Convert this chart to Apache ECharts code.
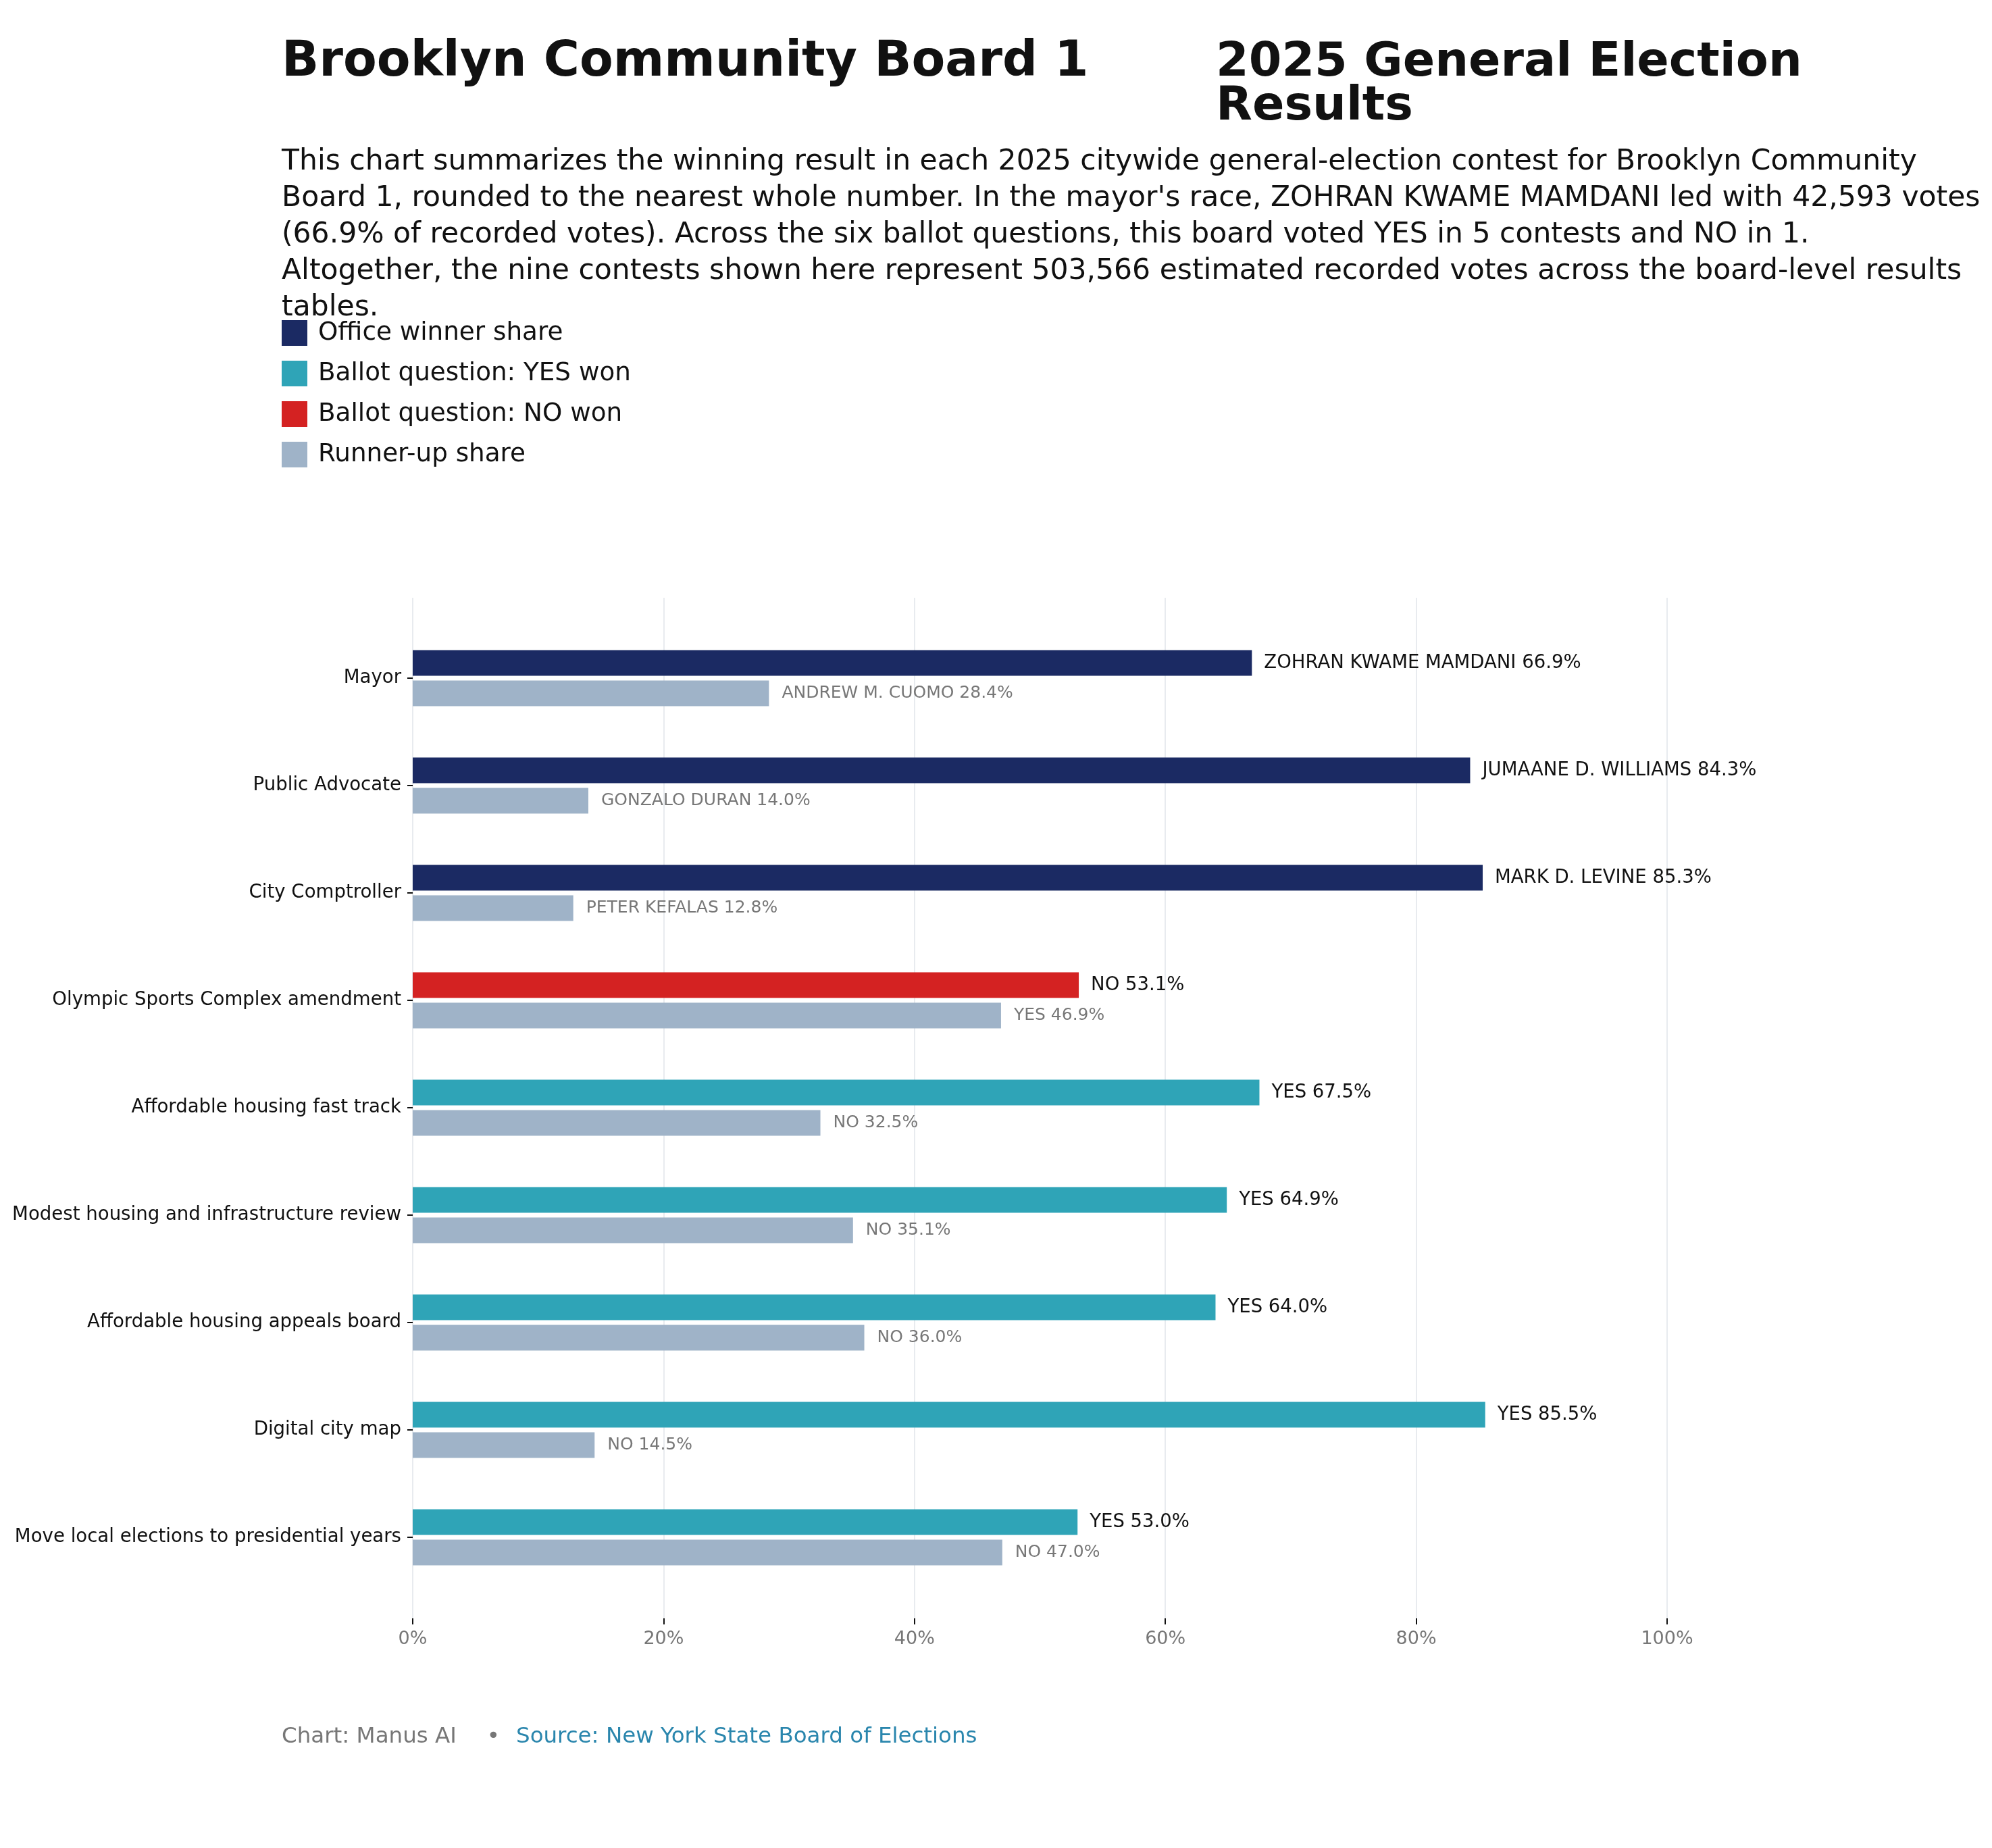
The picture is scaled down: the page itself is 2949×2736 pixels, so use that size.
<!DOCTYPE html>
<html>
<head>
<meta charset="utf-8" />
<title>Brooklyn Community Board 1 - 2025 General Election Results</title>
<script type="text/javascript" src="https://cdn.jsdelivr.net/npm/echarts@6/dist/echarts.min.js"></script>
<style type="text/css">
html, body {
	margin: 0;
	padding: 0;
	background: #ffffff;
}
#main {
	width: 2949px;
	height: 2736px;
}
</style>
</head>
<body>
<div id="main"></div>
<script type="text/javascript">
// contests, top to bottom
var contests = [
    'Mayor',
    'Public Advocate',
    'City Comptroller',
    'Olympic Sports Complex amendment',
    'Affordable housing fast track',
    'Modest housing and infrastructure review',
    'Affordable housing appeals board',
    'Digital city map',
    'Move local elections to presidential years'
];
// office / yes / no
var winnerKind = ['office', 'office', 'office', 'no', 'yes', 'yes', 'yes', 'yes', 'yes'];
var winnerNames = ['ZOHRAN KWAME MAMDANI', 'JUMAANE D. WILLIAMS', 'MARK D. LEVINE', 'NO', 'YES', 'YES', 'YES', 'YES', 'YES'];
var winnerShares = [66.9, 84.3, 85.3, 53.1, 67.5, 64.9, 64.0, 85.5, 53.0];
var runnerNames = ['ANDREW M. CUOMO', 'GONZALO DURAN', 'PETER KEFALAS', 'YES', 'NO', 'NO', 'NO', 'NO', 'NO'];
var runnerShares = [28.4, 14.0, 12.8, 46.9, 32.5, 35.1, 36.0, 14.5, 47.0];
var xTicks = [0, 20, 40, 60, 80, 100];

var FONT = 'DejaVu Sans';
var colors = {
    office: '#1b2a63',
    yes: '#2fa4b7',
    no: '#d42222',
    runner: '#9fb3c8'
};

function onlyKind(kind) {
    return winnerShares.map(function (v, i) {
        return winnerKind[i] === kind ? v : '-';
    });
}

function winnerLabel() {
    return {
        show: true,
        position: 'right',
        distance: 18,
        fontFamily: FONT,
        fontSize: 27.5,
        color: '#111111',
        formatter: function (p) {
            return winnerNames[p.dataIndex] + ' ' + p.value.toFixed(1) + '%';
        }
    };
}

function winnerSeries(name, kind) {
    return {
        name: name,
        type: 'bar',
        stack: 'winner',
        xAxisIndex: 0,
        yAxisIndex: 0,
        barWidth: 38,
        barGap: '18.4%',
        itemStyle: { color: colors[kind] },
        label: winnerLabel(),
        data: onlyKind(kind),
        z: 3
    };
}

var chart = echarts.init(document.getElementById('main'), null, { renderer: 'canvas' });

var option = {
    backgroundColor: '#ffffff',
    animation: false,
    textStyle: { fontFamily: FONT },
    title: [{
        text: 'Brooklyn Community Board 1',
        left: 417,
        top: 61,
        padding: 0,
        textStyle: { fontFamily: FONT, fontSize: 72.5, fontWeight: 'bold', color: '#111111', lineHeight: 65 }
    }, {
        text: '2025 General Election\nResults',
        left: 1800,
        top: 61,
        padding: 0,
        textStyle: { fontFamily: FONT, fontSize: 70, fontWeight: 'bold', color: '#111111', lineHeight: 65 }
    }, {
        text: 'This chart summarizes the winning result in each 2025 citywide general-election contest for Brooklyn Community\n' +
              'Board 1, rounded to the nearest whole number. In the mayor\'s race, ZOHRAN KWAME MAMDANI led with 42,593 votes\n' +
              '(66.9% of recorded votes). Across the six ballot questions, this board voted YES in 5 contests and NO in 1.\n' +
              'Altogether, the nine contests shown here represent 503,566 estimated recorded votes across the board-level results\n' +
              'tables.',
        left: 417,
        top: 213,
        padding: 0,
        textStyle: { fontFamily: FONT, fontSize: 42.5, fontWeight: 'normal', color: '#111111', lineHeight: 54 }
    }, {
        text: '{a|Chart: Manus AI}{b|•}{c|Source: New York State Board of Elections}',
        left: 417,
        top: 2552,
        padding: 0,
        textStyle: {
            fontWeight: 'normal',
            rich: {
                a: { fontFamily: FONT, fontSize: 32.5, fontWeight: 'normal', color: '#777777', lineHeight: 40 },
                b: { fontFamily: FONT, fontSize: 32.5, fontWeight: 'normal', color: '#777777', lineHeight: 40, padding: [0, 24, 0, 45] },
                c: { fontFamily: FONT, fontSize: 32.5, fontWeight: 'normal', color: '#2a86ad', lineHeight: 40 }
            }
        }
    }],
    legend: {
        orient: 'vertical',
        left: 417,
        top: 474,
        padding: 0,
        itemWidth: 38,
        itemHeight: 38,
        itemGap: 22,
        icon: 'rect',
        selectedMode: false,
        textStyle: { fontFamily: FONT, fontSize: 37.3, color: '#111111', padding: [0, 0, 0, 11] },
        data: ['Office winner share', 'Ballot question: YES won', 'Ballot question: NO won', 'Runner-up share']
    },
    grid: [{
        // bars
        left: 611,
        right: 481,
        top: 924.5,
        bottom: 380.5,
        containLabel: false
    }, {
        // gridlines and percent axis, a little taller than the bar area
        left: 611,
        right: 481,
        top: 885,
        bottom: 340,
        containLabel: false
    }],
    xAxis: [{
        type: 'value',
        gridIndex: 0,
        min: 0,
        max: 100,
        interval: 20,
        show: false
    }, {
        type: 'value',
        gridIndex: 1,
        min: xTicks[0],
        max: xTicks[xTicks.length - 1],
        interval: 20,
        axisLine: { show: false },
        axisTick: { show: true, length: 9, lineStyle: { color: '#111111', width: 2 } },
        splitLine: { show: true, lineStyle: { color: '#e8ebef', width: 2 } },
        axisLabel: {
            margin: 17,
            fontFamily: FONT,
            fontSize: 27,
            color: '#777777',
            formatter: '{value}%'
        }
    }],
    yAxis: [{
        type: 'category',
        gridIndex: 0,
        inverse: true,
        data: contests,
        axisLine: { show: false },
        axisTick: { show: true, alignWithLabel: true, length: 8, lineStyle: { color: '#111111', width: 2 } },
        splitLine: { show: false },
        axisLabel: {
            margin: 17,
            fontFamily: FONT,
            fontSize: 27.6,
            color: '#111111'
        }
    }, {
        type: 'value',
        gridIndex: 1,
        min: 0,
        max: 1,
        show: false
    }],
    series: [
        winnerSeries('Office winner share', 'office'),
        winnerSeries('Ballot question: YES won', 'yes'),
        winnerSeries('Ballot question: NO won', 'no'),
        {
            name: 'Runner-up share',
            type: 'bar',
            xAxisIndex: 0,
            yAxisIndex: 0,
            barWidth: 38,
            barGap: '18.4%',
            itemStyle: { color: colors.runner },
            label: {
                show: true,
                position: 'right',
                distance: 19,
                fontFamily: FONT,
                fontSize: 25,
                color: '#777777',
                formatter: function (p) {
                    return runnerNames[p.dataIndex] + ' ' + p.value.toFixed(1) + '%';
                }
            },
            data: runnerShares,
            z: 3
        }
    ]
};

chart.setOption(option);
</script>
</body>
</html>
